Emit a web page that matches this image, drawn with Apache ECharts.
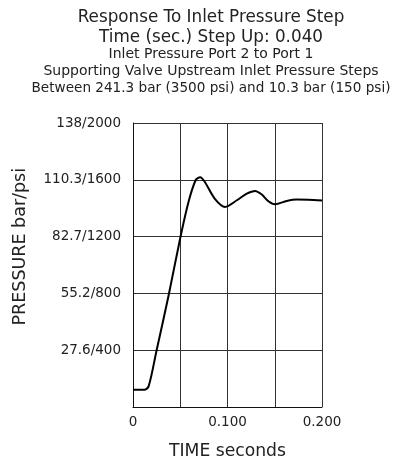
<!DOCTYPE html>
<html><head><meta charset="utf-8">
<script src="https://cdn.jsdelivr.net/npm/echarts@6/dist/echarts.min.js"></script>
<style>html,body{margin:0;padding:0;background:#fff}#c{width:393px;height:460px}</style>
</head><body><div id="c"></div>
<script>
const titleLines = ["Response To Inlet Pressure Step", "Time (sec.) Step Up: 0.040"];
const subtitleLines = ["Inlet Pressure Port 2 to Port 1", "Supporting Valve Upstream Inlet Pressure Steps", "Between 241.3 bar (3500 psi) and 10.3 bar (150 psi)"];
const xAxisName = "TIME seconds";
const yAxisName = "PRESSURE bar/psi";
const xTickLabels = {"0": "0", "0.1": "0.100", "0.2": "0.200"};
const yTickLabels = {"400": "27.6/400", "800": "55.2/800", "1200": "82.7/1200", "1600": "110.3/1600", "2000": "138/2000"};
const timeSec = [0, 0.006, 0.012, 0.0165, 0.025, 0.0375, 0.05, 0.059, 0.0665, 0.0711, 0.0757, 0.0864, 0.0975, 0.1099, 0.1204, 0.1292, 0.1363, 0.1433, 0.1503, 0.1627, 0.1732, 0.1855, 0.2];
const pressurePsi = [122, 122, 122, 145, 400, 780, 1190, 1450, 1600, 1618, 1588, 1468, 1409, 1456, 1503, 1522, 1496, 1449, 1428, 1451, 1461, 1459, 1454];

const chart = echarts.init(document.getElementById('c'), null, {renderer: 'canvas'});
const ff = '"DejaVu Sans", sans-serif';
const txt = '#222';
const titleY = [17.8, 37.5];
const subY = [54.7, 71, 88];
const subSize = [14, 14, 13.6];
const graphics = [];
titleLines.forEach((t, i) => graphics.push({type: 'text', x: 211, y: titleY[i], style: {text: t, fill: txt, font: '16.8px ' + ff, textAlign: 'center', textVerticalAlign: 'middle'}}));
subtitleLines.forEach((t, i) => graphics.push({type: 'text', x: 211, y: subY[i], style: {text: t, fill: txt, font: subSize[i] + 'px ' + ff, textAlign: 'center', textVerticalAlign: 'middle'}}));
graphics.push({type: 'text', x: 20.5, y: 246.7, rotation: Math.PI / 2, style: {text: yAxisName, fill: txt, font: '17.5px ' + ff, textAlign: 'center', textVerticalAlign: 'middle'}});
chart.setOption({
  animation: false,
  graphic: graphics,
  grid: {left: 133, right: 71, top: 123, bottom: 53, containLabel: false, outerBoundsMode: 'none'},
  xAxis: {
    type: 'value', min: 0, max: 0.2, interval: 0.05,
    name: xAxisName, nameLocation: 'middle', nameGap: 36,
    nameTextStyle: {fontFamily: ff, fontSize: 17.2, color: txt},
    axisLine: {lineStyle: {color: '#111', width: 1}},
    axisTick: {show: false},
    axisLabel: {fontFamily: ff, fontSize: 13.5, color: txt, margin: 8,
      formatter: v => { const k = String(Math.round(v * 1000) / 1000); return xTickLabels[k] || ''; }},
    splitLine: {show: true, lineStyle: {color: '#333', width: 1}}
  },
  yAxis: {
    type: 'value', min: 0, max: 2000, interval: 400,
    axisLine: {show: true, lineStyle: {color: '#111', width: 1}},
    axisTick: {show: false},
    axisLabel: {fontFamily: ff, fontSize: 13.5, color: txt, margin: 12,
      formatter: v => yTickLabels[String(v)] || ''},
    splitLine: {show: true, lineStyle: {color: '#333', width: 1}}
  },
  series: [{
    type: 'line', smooth: 0.3, symbol: 'none',
    lineStyle: {color: '#000', width: 2},
    data: timeSec.map((t, i) => [t, pressurePsi[i]])
  }]
});
</script></body></html>
